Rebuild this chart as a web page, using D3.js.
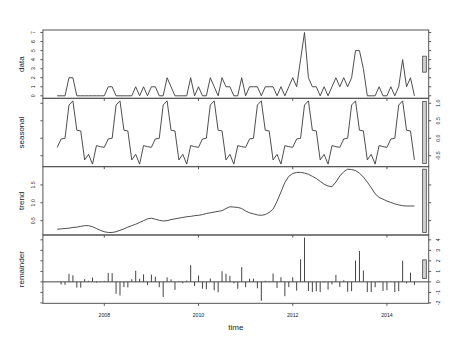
<!DOCTYPE html>
<html>
<head>
<meta charset="utf-8">
<script src="https://cdn.jsdelivr.net/npm/d3@7/dist/d3.min.js"></script>
<style>
  html, body { margin: 0; padding: 0; background: #fff; }
  svg { display: block; font-family: "Liberation Sans", Arial, Helvetica, sans-serif; }
</style>
</head>
<body>
<svg id="chart" width="468" height="351"></svg>
<script>
// ---- Data (monthly, Jan 2007 .. Aug 2014) ----
const startYear = 2007;
const frequency = 12;

const dataValues = [
  0,0,0,2,2,0,0,0,0,0,0,0,
  0,1,1,0,0,0,0,0,1,0,1,0,
  1,1,0,0,2,1,0,0,0,0,2,0,
  1,0,0,2,1,0,2,1,1,0,0,2,
  0,1,1,1,0,1,1,1,0,1,0,1,
  2,1,4,7,2,1,1,0,1,0,1,2,
  1,2,1,2,5,5,3,0,0,0,1,0,
  0,1,0,1,4,1,2,0
];

const seasonalValues = [
  -0.26,-0.02,0.00,0.95,1.07,0.23,0.21,-0.62,-0.46,-0.74,-0.21,-0.24,
  -0.26,-0.02,0.00,0.95,1.07,0.23,0.21,-0.62,-0.46,-0.74,-0.21,-0.24,
  -0.26,-0.02,0.00,0.95,1.07,0.23,0.21,-0.62,-0.46,-0.74,-0.21,-0.24,
  -0.26,-0.02,0.00,0.95,1.07,0.23,0.21,-0.62,-0.46,-0.74,-0.21,-0.24,
  -0.26,-0.02,0.00,0.95,1.07,0.23,0.21,-0.62,-0.46,-0.74,-0.21,-0.24,
  -0.26,-0.02,0.00,0.95,1.07,0.23,0.21,-0.62,-0.46,-0.74,-0.21,-0.24,
  -0.26,-0.02,0.00,0.95,1.07,0.23,0.21,-0.62,-0.46,-0.74,-0.21,-0.24,
  -0.26,-0.02,0.00,0.95,1.07,0.23,0.21,-0.62
];

const trendValues = [
  0.26,0.27,0.28,0.29,0.31,0.32,0.34,0.36,0.36,0.33,0.28,0.23,
  0.19,0.17,0.17,0.19,0.23,0.27,0.32,0.36,0.40,0.45,0.50,0.55,
  0.57,0.54,0.51,0.49,0.50,0.53,0.55,0.57,0.59,0.61,0.62,0.64,
  0.65,0.67,0.70,0.72,0.74,0.76,0.78,0.84,0.89,0.88,0.87,0.84,
  0.77,0.72,0.69,0.66,0.65,0.67,0.73,0.82,1.04,1.30,1.57,1.74,
  1.82,1.85,1.85,1.83,1.80,1.74,1.68,1.60,1.52,1.47,1.45,1.58,
  1.75,1.87,1.94,1.93,1.90,1.83,1.72,1.58,1.42,1.25,1.15,1.10,
  1.05,1.01,0.97,0.94,0.92,0.91,0.91,0.91
];

const remainderValues = [
  0.00,-0.25,-0.28,0.76,0.62,-0.55,-0.55,0.26,0.10,0.41,-0.07,0.01,
  0.07,0.85,0.83,-1.14,-1.30,-0.50,-0.53,0.26,1.06,0.29,0.71,-0.31,
  0.69,0.48,-0.51,-1.44,0.43,0.24,-0.76,0.05,-0.13,0.13,1.59,-0.40,
  0.61,-0.65,-0.70,0.33,-0.81,-0.99,1.01,0.78,0.57,-0.14,-0.66,1.40,
  -0.51,0.30,0.31,-0.61,-1.80,0.10,0.06,0.80,-0.58,0.44,-1.36,-0.50,
  0.44,-0.83,2.15,4.22,-0.87,-0.97,-0.89,-0.98,-0.06,-0.73,-0.24,0.66,
  -0.49,0.15,-0.94,-0.88,2.03,2.94,1.07,-0.96,-0.96,-0.51,0.06,-0.86,
  -0.79,0.01,-0.97,-0.89,2.01,-0.14,0.88,-0.29
];

const panelLabels = ["data", "seasonal", "trend", "remainder"];
const yTicks = [
  [0,1,2,3,4,5,6,7],
  [-0.5,0,0.5,1.0],
  [0.5,1.0,1.5],
  [-2,-1,0,1,2,3,4]
];
const yTickLabels = [
  ["0","1","2","3","4","5","6","7"],
  ["-0.5","0.0","0.5","1.0"],
  ["0.5","1.0","1.5"],
  ["-2","-1","0","1","2","3","4"]
];
const xTicks = [2008, 2010, 2012, 2014];
const xLabel = "time";

// ---- Layout ----
const svg = d3.select("#chart");
const plotLeft = 42.9, plotRight = 428.7;
const plotTop = 30, panelH = 68.33;
const lineColor = "#444";
const boxColor = "#555";
const textColor = "#222";
const tickLen = 2.5;

const series = [dataValues, seasonalValues, trendValues, remainderValues];
const times = dataValues.map((d, i) => startYear + i / frequency);

const tExt = d3.extent(times);
const tPad = (tExt[1] - tExt[0]) * 0.04;
const x = d3.scaleLinear().domain([tExt[0] - tPad, tExt[1] + tPad]).range([plotLeft, plotRight]);

// common range-bar height = smallest series range
const seriesRanges = series.map(s => d3.extent(s));
const minRange = d3.min(seriesRanges, r => r[1] - r[0]);
const xDom = x.domain();
const dx = (xDom[1] - xDom[0]) / 64;

series.forEach((vals, p) => {
  const top = plotTop + p * panelH;
  const bottom = top + panelH;
  const ext = seriesRanges[p];
  const pad = (ext[1] - ext[0]) * 0.04;
  const y = d3.scaleLinear().domain([ext[0] - pad, ext[1] + pad]).range([bottom, top]);
  const g = svg.append("g");

  if (p < 3) {
    const line = d3.line().x((d, i) => x(times[i])).y(d => y(d));
    g.append("path").datum(vals)
      .attr("d", line).attr("fill", "none")
      .attr("stroke", lineColor).attr("stroke-width", 0.95);
  } else {
    g.append("line")
      .attr("x1", plotLeft).attr("x2", plotRight)
      .attr("y1", y(0)).attr("y2", y(0))
      .attr("stroke", lineColor).attr("stroke-width", 1);
    g.selectAll("line.bar").data(vals).enter().append("line")
      .attr("class", "bar")
      .attr("x1", (d, i) => x(times[i])).attr("x2", (d, i) => x(times[i]))
      .attr("y1", y(0)).attr("y2", d => y(d))
      .attr("stroke", lineColor).attr("stroke-width", 1);
  }

  // box
  g.append("rect")
    .attr("x", plotLeft).attr("y", top)
    .attr("width", plotRight - plotLeft).attr("height", panelH)
    .attr("fill", "none").attr("stroke", boxColor).attr("stroke-width", 1);

  // range bar
  const mid = (ext[0] + ext[1]) / 2;
  const bx0 = x(xDom[1] - dx), bx1 = x(xDom[1] - 0.4 * dx);
  g.append("rect")
    .attr("x", bx0).attr("y", y(mid + minRange / 2))
    .attr("width", bx1 - bx0).attr("height", y(mid - minRange / 2) - y(mid + minRange / 2))
    .attr("fill", "#D3D3D3").attr("stroke", "#444").attr("stroke-width", 0.8);

  // y ticks both sides
  const right = (p % 2 === 1);
  yTicks[p].forEach((t, k) => {
    const yy = y(t);
    g.append("line").attr("x1", plotLeft - tickLen).attr("x2", plotLeft)
      .attr("y1", yy).attr("y2", yy).attr("stroke", boxColor).attr("stroke-width", 1);
    g.append("line").attr("x1", plotRight).attr("x2", plotRight + tickLen)
      .attr("y1", yy).attr("y2", yy).attr("stroke", boxColor).attr("stroke-width", 1);
    const lx = right ? 438 : 33.3;
    g.append("text")
      .attr("transform", `translate(${lx},${yy}) rotate(-90)`)
      .attr("text-anchor", "middle").attr("dominant-baseline", "central")
      .attr("font-size", 5.2).attr("fill", textColor)
      .text(yTickLabels[p][k]);
  });

  // x ticks on each panel bottom
  xTicks.forEach(t => {
    g.append("line").attr("x1", x(t)).attr("x2", x(t))
      .attr("y1", bottom).attr("y2", bottom + tickLen)
      .attr("stroke", boxColor).attr("stroke-width", 1);
  });

  // panel label
  g.append("text")
    .attr("transform", `translate(21,${(top + bottom) / 2}) rotate(-90)`)
    .attr("text-anchor", "middle").attr("dominant-baseline", "central")
    .attr("font-size", 8).attr("fill", textColor)
    .text(panelLabels[p]);

  if (p === 3) {
    xTicks.forEach(t => {
      g.append("text").attr("x", x(t)).attr("y", 315)
        .attr("text-anchor", "middle").attr("dominant-baseline", "central")
        .attr("font-size", 5.2).attr("fill", textColor).text(String(t));
    });
    g.append("text").attr("x", (plotLeft + plotRight) / 2).attr("y", 327.5)
      .attr("text-anchor", "middle").attr("dominant-baseline", "central")
      .attr("font-size", 8).attr("fill", textColor).text(xLabel);
  }
});
</script>
</body>
</html>
